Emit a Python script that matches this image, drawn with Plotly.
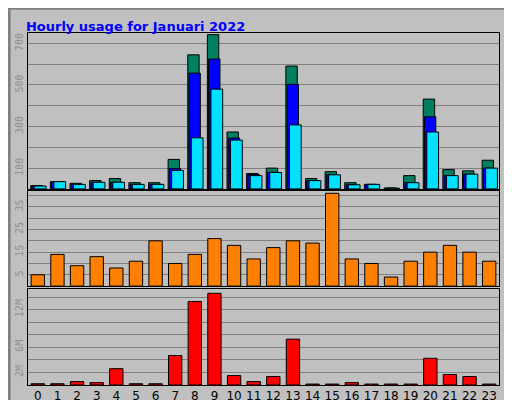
import plotly.graph_objects as go
from plotly.subplots import make_subplots

hours = list(range(24))
hits = [16, 35, 27, 40, 50, 30, 30, 142, 645, 742, 274, 74, 100, 591, 50, 83, 30, 22, 4, 64, 432, 93, 87, 138]
files = [14, 33, 22, 32, 32, 22, 22, 98, 557, 625, 245, 70, 80, 503, 40, 68, 20, 22, 4, 30, 347, 64, 71, 100]
pages = [14, 35, 22, 32, 32, 22, 22, 89, 246, 480, 235, 64, 79, 308, 40, 68, 20, 22, 4, 30, 274, 64, 71, 100]
sites = [5, 14, 9, 13, 8, 11, 20, 10, 14, 21, 18, 12, 17, 20, 19, 41, 12, 10, 4, 11, 15, 18, 15, 11]
volume = [0.2, 0.2, 0.55, 0.38, 2.6, 0.2, 0.2, 4.7, 13.3, 14.6, 1.5, 0.55, 1.35, 7.3, 0.15, 0.15, 0.38, 0.15, 0.15, 0.15, 4.25, 1.67, 1.35, 0.15]
volume = [v * 1e6 for v in volume]

fig = make_subplots(rows=3, cols=1, shared_xaxes=True, vertical_spacing=0.01)
line = dict(color="black", width=1)
fig.add_trace(go.Bar(x=hours, y=hits, width=0.58, offset=-0.36, marker=dict(color="#008060", line=line)), 1, 1)
fig.add_trace(go.Bar(x=hours, y=files, width=0.58, offset=-0.3, marker=dict(color="#0000FF", line=line)), 1, 1)
fig.add_trace(go.Bar(x=hours, y=pages, width=0.6, offset=-0.18, marker=dict(color="#00E0FF", line=line)), 1, 1)
fig.add_trace(go.Bar(x=hours, y=sites, width=0.68, marker=dict(color="#FF8000", line=line)), 2, 1)
fig.add_trace(go.Bar(x=hours, y=volume, width=0.68, marker=dict(color="#FF0000", line=line)), 3, 1)

tickfont = dict(family="DejaVu Sans Mono", size=10, color="#909090")
grid = dict(showgrid=True, gridcolor="#808080", gridwidth=1)
yax = dict(tickangle=-90, tickfont=tickfont, showgrid=False, zeroline=False, mirror=True, automargin=False,
           showline=True, linecolor="black", linewidth=1, ticks="")
fig.update_yaxes(**yax)
fig.update_yaxes(domain=[0.557, 1.0], range=[0, 750], tickvals=[100, 300, 500, 700],
                 minor=dict(dtick=100, tick0=0, **grid), row=1, col=1)
fig.update_yaxes(domain=[0.281, 0.551], range=[0, 42], tickvals=[5, 15, 25, 35],
                 minor=dict(dtick=5, tick0=0, **grid), row=2, col=1)
fig.update_yaxes(domain=[0, 0.273], range=[0, 15.3e6], tickvals=[2e6, 6e6, 12e6],
                 ticktext=["2M", "6M", "12M"], minor=dict(dtick=2e6, tick0=0, **grid), row=3, col=1)
fig.update_xaxes(range=[-0.5, 23.5], showgrid=False, showline=True, mirror=True, linecolor="black",
                 linewidth=1, tickmode="array", tickvals=hours, ticks="", automargin=False,
                 tickfont=dict(family="DejaVu Sans", size=12, color="black"))

fig.add_annotation(text="<span style='color:#00E0FF'>Halaman</span>/<span style='color:#0000FF'>Berkas</span>/<span style='color:#008060'>Hits</span>",
                   xref="paper", yref="paper", x=1.0, xanchor="left", xshift=2, y=0.78, textangle=-90,
                   showarrow=False, font=dict(family="DejaVu Sans", size=12))
fig.add_annotation(text="Situs", xref="paper", yref="paper", x=1.0, xanchor="left", xshift=2, y=0.38,
                   textangle=-90, showarrow=False, font=dict(family="DejaVu Sans", size=12, color="#FF8000"))
fig.add_annotation(text="Volum", xref="paper", yref="paper", x=1.0, xanchor="left", xshift=2, y=0.1,
                   textangle=-90, showarrow=False, font=dict(family="DejaVu Sans", size=12, color="#FF0000"))
fig.update_layout(
    width=512, height=400, barmode="overlay", showlegend=False,
    paper_bgcolor="#C0C0C0", plot_bgcolor="#C0C0C0",
    margin=dict(l=20, r=21, t=25, b=23, autoexpand=False),
    title=dict(text="<b>Hourly usage for Januari 2022</b>", x=0.035, xanchor="left", y=0.965,
               font=dict(family="DejaVu Sans", size=13, color="#0000FF")),
    shapes=[dict(type="rect", xref="paper", yref="paper", x0=-0.04, x1=1.041, y0=-0.065, y1=1.07,
                 line=dict(color="#808080", width=3), layer="below")],
)
fig.write_html("out.html")
